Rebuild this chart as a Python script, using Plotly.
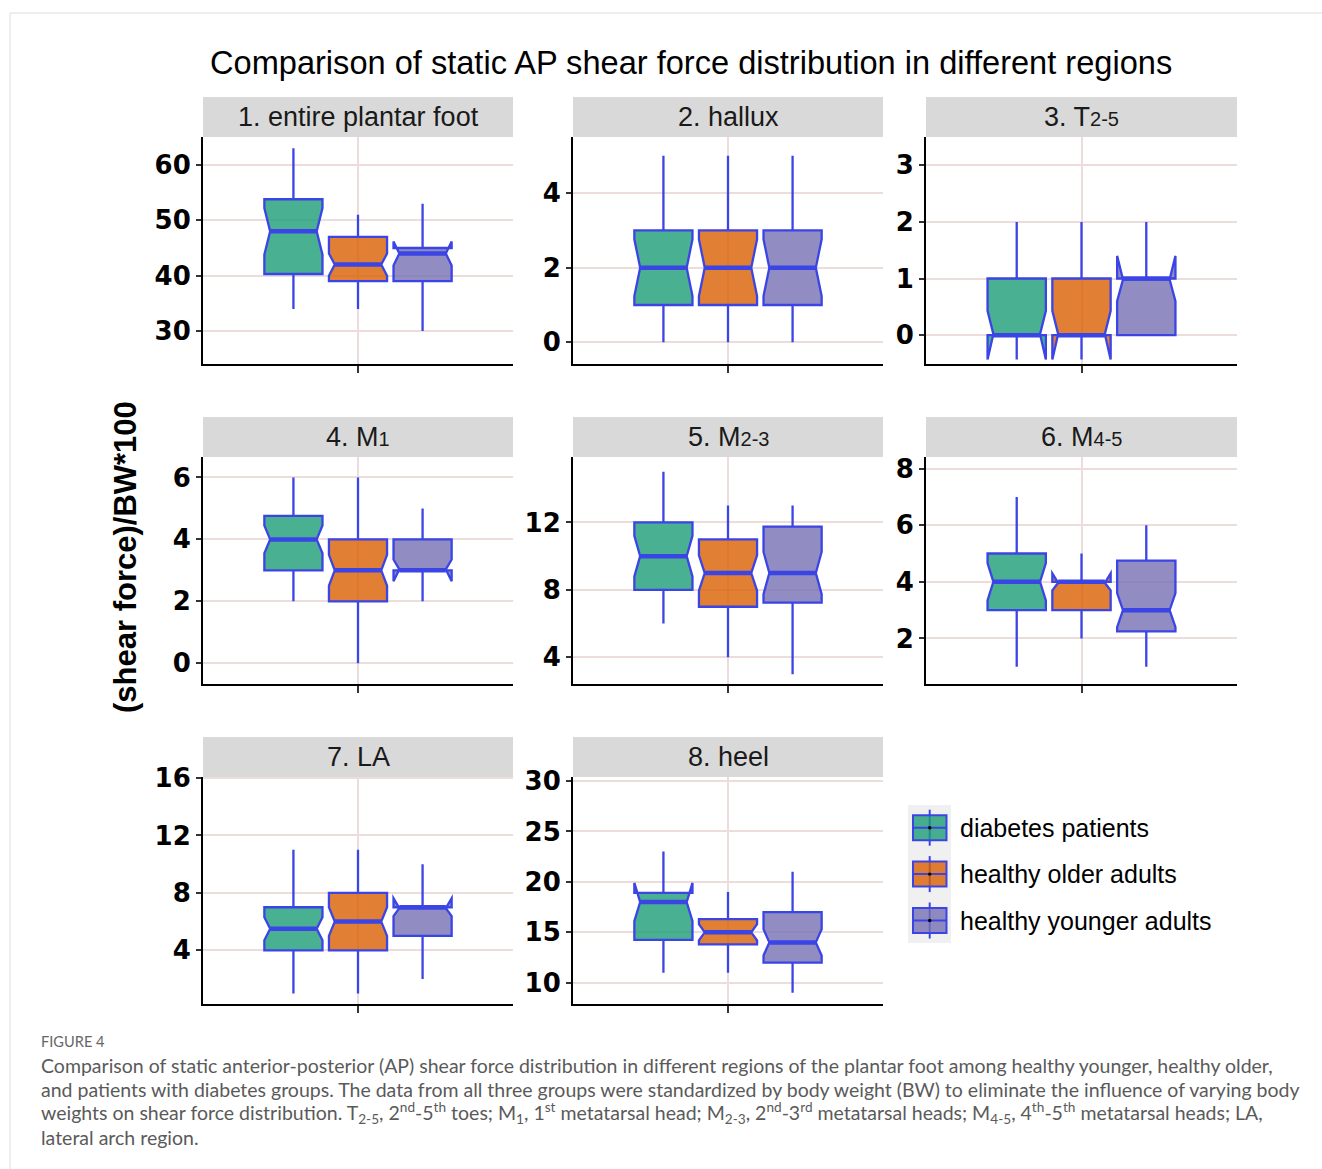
import plotly.graph_objects as go

W, H = 1322, 1169

# ---------------- data ----------------
regions = [
    "1. entire plantar foot",
    "2. hallux",
    "3. T<span style=\"font-size:20px\">2-5</span>",
    "4. M<span style=\"font-size:20px\">1</span>",
    "5. M<span style=\"font-size:20px\">2-3</span>",
    "6. M<span style=\"font-size:20px\">4-5</span>",
    "7. LA",
    "8. heel",
]
groups = ["diabetes patients", "healthy older adults", "healthy younger adults"]

# diabetes patients
dia_low = [34, 0, 0, 2, 6, 1, 1, 11]
dia_q1 = [40.3, 1, 0, 3, 8, 3, 4, 14.25]
dia_med = [48, 2, 0, 4, 10, 4, 5.5, 18]
dia_q3 = [53.8, 3, 1, 4.76, 12, 5, 7, 18.9]
dia_high = [63, 5, 2, 6, 15, 7, 11, 23]
dia_notch = [4.2, 0.76, 0.43, 0.45, 1.2, 0.66, 0.8, 1.9]

# healthy older adults
old_low = [34, 0, 0, 0, 4, 2, 1, 11]
old_q1 = [39, 1, 0, 2, 7, 3, 4, 13.8]
old_med = [42, 2, 0, 3, 9, 4, 6, 15]
old_q3 = [47, 3, 1, 4, 11, 4, 8, 16.3]
old_high = [51, 5, 2, 6, 13, 5, 11, 19]
old_notch = [2.0, 0.76, 0.43, 0.5, 1.05, 0.3, 1.0, 0.8]

# healthy younger adults
yng_low = [30, 0, 0, 2, 3, 1, 2, 9]
yng_q1 = [39, 1, 0, 3, 7.25, 2.25, 5, 12]
yng_med = [44, 2, 1, 3, 9, 3, 7, 14]
yng_q3 = [45, 3, 1, 4, 11.75, 4.75, 7, 17]
yng_high = [53, 5, 2, 5, 13, 6, 10, 21]
yng_notch = [2.15, 0.76, 0.4, 0.35, 1.25, 0.6, 0.62, 1.3]

# axis ticks for each panel
y_ticks = [
    [30, 40, 50, 60],
    [0, 2, 4],
    [0, 1, 2, 3],
    [0, 2, 4, 6],
    [4, 8, 12],
    [2, 4, 6, 8],
    [4, 8, 12, 16],
    [10, 15, 20, 25, 30],
]
y_ranges = [
    [24.05, 65.04],
    [-0.58, 5.5],
    [-0.51, 3.5],
    [-0.67, 6.66],
    [2.42, 15.88],
    [0.39, 8.41],
    [0.26, 16.07],
    [7.89, 30.4],
]

title_text = "Comparison of static AP shear force distribution in different regions"
y_title = "(shear force)/BW*100"
caption_head = "FIGURE 4"
caption_lines = [
    "Comparison of static anterior-posterior (AP) shear force distribution in different regions of the plantar foot among healthy younger, healthy older,",
    "and patients with diabetes groups. The data from all three groups were standardized by body weight (BW) to eliminate the influence of varying body",
    "weights on shear force distribution. T<sub>2-5</sub>, 2<sup>nd</sup>-5<sup>th</sup> toes; M<sub>1</sub>, 1<sup>st</sup> metatarsal head; "
    "M<sub>2-3</sub>, 2<sup>nd</sup>-3<sup>rd</sup> metatarsal heads; M<sub>4-5</sub>, 4<sup>th</sup>-5<sup>th</sup> metatarsal heads; LA,",
    "lateral arch region.",
]

stats = [
    (dia_low, dia_q1, dia_med, dia_q3, dia_high, dia_notch),
    (old_low, old_q1, old_med, old_q3, old_high, old_notch),
    (yng_low, yng_q1, yng_med, yng_q3, yng_high, yng_notch),
]

# ---------------- style ----------------
fills = ["rgba(27,158,119,0.8)", "rgba(217,95,2,0.8)", "rgba(117,112,179,0.8)"]
BLUE = "#3B44E4"
GRID = "#EDDCDC"
STRIP = "#D9D9D9"
FONT = "Liberation Sans"
dodge = [-0.25, 0.0, 0.25]
BOX_W = 0.225
NOTCH_W = 0.1

cols = [(203, 513), (573, 883), (926, 1237)]
rows = [(137, 364), (457, 684), (777, 1004)]
cells = [(0, 0), (0, 1), (0, 2), (1, 0), (1, 1), (1, 2), (2, 0), (2, 1)]


def fx(x):
    return x / W


def fy(y):
    return 1 - y / H


fig = go.Figure()
layout = {}
shapes = []
annotations = []

for p, (r, c) in enumerate(cells):
    sfx = "" if p == 0 else str(p + 1)
    xa, ya = "x" + sfx, "y" + sfx
    x0, x1 = cols[c]
    y0, y1 = rows[r]
    layout["xaxis" + sfx] = dict(
        domain=[fx(x0), fx(x1)], anchor=ya, range=[-0.6, 0.6], automargin=False,
        tickvals=[0], ticktext=[""], showgrid=True, gridcolor=GRID, gridwidth=2,
        zeroline=False, showline=True, linecolor="black", linewidth=2,
        ticks="outside", ticklen=7, tickwidth=2, tickcolor="#333", fixedrange=True,
    )
    layout["yaxis" + sfx] = dict(
        domain=[fy(y1), fy(y0)], anchor=xa, range=y_ranges[p], automargin=False,
        tickvals=y_ticks[p], showgrid=True, gridcolor=GRID, gridwidth=2,
        zeroline=False, showline=True, linecolor="black", linewidth=2,
        ticks="outside", ticklen=5, tickwidth=2, tickcolor="#333",
        tickfont=dict(family="DejaVu Sans", size=26, color="black", weight="bold"),
        fixedrange=True,
    )
    for g in range(3):
        lo, q1, md, q3, hi, ns = stats[g]
        fig.add_trace(go.Box(
            x=[dodge[g]], q1=[q1[p]], median=[md[p]], q3=[q3[p]],
            lowerfence=[lo[p]], upperfence=[hi[p]], notchspan=[ns[p]],
            notched=True, notchwidth=NOTCH_W, width=BOX_W, whiskerwidth=0,
            fillcolor=fills[g], line=dict(color=BLUE, width=2.3),
            boxpoints=False, name=groups[g], xaxis=xa, yaxis=ya,
            showlegend=False, hoverinfo="skip",
        ))
        half = BOX_W / 2 * (1 - 2 * NOTCH_W)
        fig.add_trace(go.Scatter(
            x=[dodge[g] - half, dodge[g] + half], y=[md[p], md[p]],
            mode="lines", line=dict(color=BLUE, width=4.5),
            xaxis=xa, yaxis=ya, showlegend=False, hoverinfo="skip",
        ))
    # strip
    shapes.append(dict(type="rect", xref="paper", yref="paper",
                       x0=fx(x0), x1=fx(x1), y0=fy(y0), y1=fy(y0 - 40),
                       fillcolor=STRIP, line=dict(width=0), layer="below"))
    annotations.append(dict(text=regions[p], xref="paper", yref="paper",
                            x=fx((x0 + x1) / 2), y=fy(y0 - 20), xanchor="center",
                            yanchor="middle", showarrow=False,
                            font=dict(family=FONT, size=27, color="#1a1a1a")))

# title
annotations.append(dict(text=title_text, xref="paper", yref="paper", x=fx(691), y=fy(63),
                        xanchor="center", yanchor="middle", showarrow=False,
                        font=dict(family=FONT, size=32.6, color="black")))
# y title
annotations.append(dict(text=y_title, xref="paper", yref="paper", x=fx(125), y=fy(557),
                        xanchor="center", yanchor="middle", showarrow=False, textangle=-90,
                        font=dict(family=FONT, size=31, color="black", weight="bold")))

# legend (drawn as decoration)
shapes.append(dict(type="rect", xref="paper", yref="paper", x0=fx(908), x1=fx(951),
                   y0=fy(943), y1=fy(805), fillcolor="#F0F0F0", line=dict(width=0)))
for g in range(3):
    cy = 827.7 + 46.4 * g
    shapes.append(dict(type="line", xref="paper", yref="paper", x0=fx(929.7), x1=fx(929.7),
                       y0=fy(cy - 18), y1=fy(cy + 18), line=dict(color=BLUE, width=2)))
    shapes.append(dict(type="rect", xref="paper", yref="paper", x0=fx(913), x1=fx(946.5),
                       y0=fy(cy + 12.5), y1=fy(cy - 12.5), fillcolor=fills[g],
                       line=dict(color=BLUE, width=2)))
    shapes.append(dict(type="line", xref="paper", yref="paper", x0=fx(913), x1=fx(946.5),
                       y0=fy(cy), y1=fy(cy), line=dict(color=BLUE, width=2)))
    shapes.append(dict(type="circle", xref="paper", yref="paper", x0=fx(928), x1=fx(931.4),
                       y0=fy(cy + 1.7), y1=fy(cy - 1.7), fillcolor="black", line=dict(width=0)))
    annotations.append(dict(text=groups[g], xref="paper", yref="paper", x=fx(958), y=fy(cy),
                            xanchor="left", yanchor="middle", showarrow=False,
                            font=dict(family=FONT, size=25, color="black")))

# caption
annotations.append(dict(text=caption_head, xref="paper", yref="paper", x=fx(39), y=fy(1041),
                        xanchor="left", yanchor="middle", showarrow=False,
                        font=dict(family="Lato", size=14.6, color="#666666")))
for i, line in enumerate(caption_lines):
    annotations.append(dict(text=line, xref="paper", yref="paper", x=fx(39), y=fy(1065 + 24 * i),
                            xanchor="left", yanchor="middle", showarrow=False,
                            font=dict(family="Lato", size=19.5, color="#5a5a5a")))

# outer frame
shapes.append(dict(type="rect", xref="paper", yref="paper", x0=fx(10), x1=fx(1340),
                   y0=fy(1190), y1=fy(13), line=dict(color="#DDDDDD", width=1),
                   fillcolor="rgba(0,0,0,0)"))

fig.update_layout(
    template="none",
    width=W, height=H, margin=dict(l=0, r=0, t=0, b=0, pad=0, autoexpand=False),
    paper_bgcolor="white", plot_bgcolor="white",
    shapes=shapes, annotations=annotations, showlegend=False,
    boxmode="overlay", **layout,
)

fig.write_html("out.html", config={"displayModeBar": False})
